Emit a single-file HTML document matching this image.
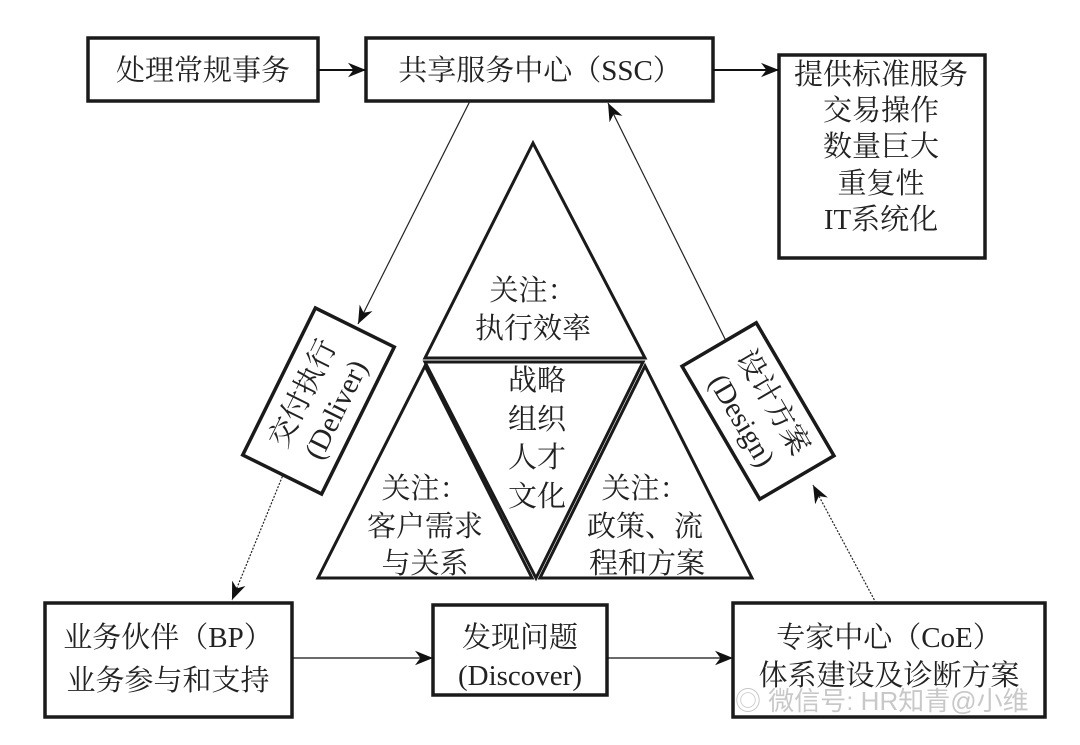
<!DOCTYPE html>
<html><head><meta charset="utf-8"><style>
html,body{margin:0;padding:0;background:#fff;width:1080px;height:745px;overflow:hidden}
svg text{font-family:"Liberation Serif","Noto Serif CJK SC",serif;fill:#222;font-size:29px}
</style></head><body>
<svg width="1080" height="745" viewBox="0 0 1080 745" xmlns="http://www.w3.org/2000/svg">
<defs>
<marker id="ah" viewBox="0 0 10 10" refX="10" refY="5" markerWidth="9" markerHeight="9" markerUnits="userSpaceOnUse" orient="auto"><path d="M0,0 L10,5 L0,10 L3,5 z" fill="#111"/></marker>
<marker id="ah2" viewBox="0 0 10 10" refX="10" refY="5" markerWidth="18" markerHeight="18" markerUnits="userSpaceOnUse" orient="auto"><path d="M0,1 L10,5 L0,9 L3,5 z" fill="#111"/></marker>
</defs>
<g fill="none" stroke="#1a1a1a" stroke-width="3.5">
<rect x="88" y="38" width="230" height="63"/>
<rect x="366" y="38" width="347" height="63"/>
<rect x="779" y="55" width="206" height="203"/>
<rect x="45" y="603" width="247" height="114"/>
<rect x="433" y="605" width="174" height="90"/>
<rect x="733" y="603" width="312" height="114"/>
</g>
<g stroke="#111" stroke-width="2">
<line x1="318" y1="70" x2="366" y2="70" marker-end="url(#ah2)"/>
<line x1="713" y1="70" x2="779" y2="70" marker-end="url(#ah2)"/>
<line x1="292" y1="658" x2="433" y2="658" stroke-width="1.2" marker-end="url(#ah2)"/>
<line x1="607" y1="658" x2="733" y2="658" stroke-width="1.2" marker-end="url(#ah2)"/>
</g>
<!-- SSC to BP -->
<g stroke="#222" stroke-width="1.2" fill="none">
<line x1="470" y1="101" x2="358" y2="324" marker-end="url(#ah2)"/>
<line x1="285" y1="470" x2="232" y2="600" marker-end="url(#ah2)" stroke-dasharray="2,1.5"/>
<line x1="876" y1="603" x2="813" y2="485" marker-end="url(#ah2)" stroke-dasharray="2,1.5"/>
<line x1="728" y1="345" x2="608" y2="103" marker-end="url(#ah2)"/>
</g>
<!-- triangles -->
<g fill="none" stroke="#1a1a1a" stroke-width="3">
<polygon points="533,143 425,358 645,358"/>
<polygon points="425,362 643,362 536,578"/>
<polygon points="425,366 318,578 532,578"/>
<polygon points="645,366 540,578 752,578"/>
</g>
<!-- rotated boxes -->
<g transform="translate(318.5,401) rotate(-63.7)">
<rect x="-82" y="-44" width="164" height="88" fill="#fff" stroke="#1a1a1a" stroke-width="3.5"/>
<text x="0" y="-8" text-anchor="middle">交付执行</text>
<text x="0" y="29" text-anchor="middle">(Deliver)</text>
</g>
<g transform="translate(758,411) rotate(59.7)">
<rect x="-77" y="-43" width="154" height="86" fill="#fff" stroke="#1a1a1a" stroke-width="3.5"/>
<text x="0" y="-8" text-anchor="middle">设计方案</text>
<text x="0" y="28" text-anchor="middle">(Design)</text>
</g>
<g text-anchor="middle">
<text x="203" y="80">处理常规事务</text>
<text x="540" y="80">共享服务中心（SSC）</text>
<text x="881" y="84">提供标准服务</text>
<text x="881" y="120">交易操作</text>
<text x="881" y="156">数量巨大</text>
<text x="881" y="193">重复性</text>
<text x="881" y="229">IT系统化</text>
<text x="533" y="300">关注：</text>
<text x="533" y="338">执行效率</text>
<text x="537" y="390">战略</text>
<text x="537" y="429">组织</text>
<text x="537" y="467">人才</text>
<text x="537" y="506">文化</text>
<text x="425" y="498">关注：</text>
<text x="425" y="536">客户需求</text>
<text x="425" y="573">与关系</text>
<text x="645" y="498">关注：</text>
<text x="645" y="536">政策、流</text>
<text x="647" y="573">程和方案</text>
<text x="168" y="647">业务伙伴（BP）</text>
<text x="168" y="690">业务参与和支持</text>
<text x="520" y="647">发现问题</text>
<text x="520" y="685">(Discover)</text>
<text x="889" y="647">专家中心（CoE）</text>
<text x="889" y="685">体系建设及诊断方案</text>
</g>
<text x="735" y="710" style="fill:#bbb;font-size:26px;font-family:'Liberation Sans','Noto Sans CJK SC',sans-serif" opacity="0.8">◎ 微信号: HR知青@小维</text>
</svg>
</body></html>
